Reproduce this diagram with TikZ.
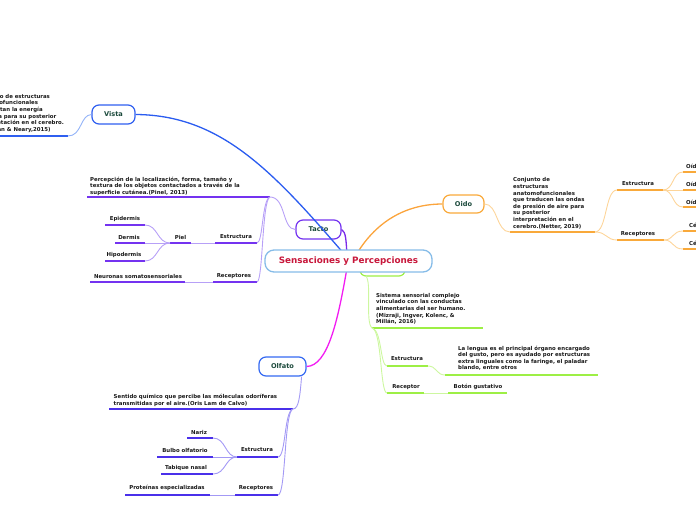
\documentclass[tikz,border=0pt]{standalone}
\usepackage{fontspec}
\setmainfont{DejaVu Sans}
\begin{document}
\begin{tikzpicture}[x=1pt,y=-1pt,
  sm/.style={font=\fontsize{5.4}{6.6}\selectfont\bfseries, text=black!90, inner sep=0pt},
  smc/.style={sm, anchor=center},
  para/.style={sm, anchor=north west, align=left},
  topic/.style={draw=#1, line width=1.2pt, fill=white, rounded corners=7pt,
    font=\fontsize{6.6}{8}\selectfont\bfseries, text=labc, inner sep=0pt},
  ul/.style={draw=#1, line width=1.8pt},
  cn/.style={draw=#1, line width=0.9pt},
  mainc/.style={draw=#1, line width=1.3pt}]
\definecolor{labc}{HTML}{1C4A3C}
\definecolor{tit}{HTML}{C8173B}
\definecolor{cenb}{HTML}{86BCE8}
\definecolor{vd}{HTML}{2F5FF0}\definecolor{vl}{HTML}{93B3F8}
\definecolor{td}{HTML}{7433F0}\definecolor{tl}{HTML}{B7A0F7}
\definecolor{od}{HTML}{F9A93A}\definecolor{ol}{HTML}{FDD59A}
\definecolor{gd}{HTML}{9DEF45}\definecolor{gl}{HTML}{CDF7A0}
\definecolor{fd}{HTML}{4A30EA}\definecolor{fl}{HTML}{A399F5}
\definecolor{vmain}{HTML}{2A5CF0}
\definecolor{tmain}{HTML}{7A2AE8}
\definecolor{omain}{HTML}{FBA43C}
\definecolor{fmain}{HTML}{F21CF2}
\definecolor{fbox}{HTML}{3469F2}
\useasboundingbox (0,0) rectangle (696,520);

% ---------- topic nodes ----------
\node[topic=vd, minimum width=43pt, minimum height=19pt] (vista) at (113.5,114.5) {Vista};
\node[topic=td, minimum width=45pt, minimum height=19pt] (tacto) at (318.5,229.5) {Tacto};
\node[topic=od, minimum width=41pt, minimum height=18pt] (oido) at (463.5,204) {Oido};
\node[topic=fbox, minimum width=47pt, minimum height=19pt] (olfato) at (282.5,366.5) {Olfato};

% ---------- main connectors (drawn under the central node) ----------
\coordinate (cv) at (345,255);
\coordinate (ct) at (347,255);
\coordinate (co) at (356,255);
\coordinate (cf) at (347,268);
\coordinate (cg) at (366,276);
\draw[mainc=vmain] (vista.east) .. controls (220,115) and (272,170) .. (cv);
\draw[mainc=tmain] (tacto.east) .. controls (346,232) and (346,240) .. (ct);
\draw[mainc=omain] (co) .. controls (378,218) and (410,204) .. (oido.west);
\draw[mainc=fmain] (cf) .. controls (338,320) and (328,366) .. (olfato.east);
\node[draw=gd, line width=1.2pt, fill=white, rounded corners=6pt, minimum width=45pt, minimum height=20pt, inner sep=0pt] (gusto) at (382.5,266) {};

% ---------- central node ----------
\node[draw=cenb, line width=1.3pt, fill=white, rounded corners=9pt, minimum width=167pt, minimum height=22pt,
  font=\fontsize{8.8}{10}\selectfont\bfseries, text=tit, inner sep=0pt] (c) at (348.5,261) {Sensaciones y Percepciones};

% ---------- Vista ----------
\node[para] (vdesc) at (-24,94) {Conjunto de estructuras\\anatomofuncionales\\que captan la energía\\lumínica para su posterior\\interpretación en el cerebro.\\(Sheehan \& Neary,2015)};
\coordinate (vdL) at (-5,136); \coordinate (vdR) at (68,136);
\draw[ul=vd] (vdL) -- (vdR);
\draw[cn=vl] (vdR) .. controls (82,136) and (80,115) .. (vista.west);

% ---------- Tacto ----------
\node[para] (tdesc) at (90,176.5) {Percepción de la localización, forma, tamaño y\\textura de los objetos contactados a través de la\\superficie cutánea.(Pinel, 2013)};
\coordinate (tdL) at (87,197); \coordinate (tdR) at (270,197);
\draw[ul=td] (tdL) -- (tdR);
\draw[cn=tl] (tdR) .. controls (286,197) and (282,229.5) .. (tacto.west);

\node[smc] (test) at (236,237) {Estructura};
\coordinate (testL) at (215,243); \coordinate (testR) at (257,243);
\draw[ul=td] (testL) -- (testR);
\node[smc] (trec) at (234,276) {Receptores};
\coordinate (trecL) at (213,282); \coordinate (trecR) at (257,282);
\draw[ul=td] (trecL) -- (trecR);
\draw[cn=tl] (tdR) .. controls (262,199) and (263,243) .. (testR);
\draw[cn=tl] (tdR) .. controls (262,199) and (263,282) .. (trecR);

\node[smc] (piel) at (180.5,237) {Piel};
\coordinate (pielL) at (170,243); \coordinate (pielR) at (191,243);
\draw[ul=td] (pielL) -- (pielR);
\draw[cn=tl] (pielR) -- (testL);

\node[smc] (epi) at (125,219) {Epidermis};
\coordinate (epiL) at (105,225); \coordinate (epiR) at (145,225);
\draw[ul=td] (epiL) -- (epiR);
\node[smc] (der) at (129,237) {Dermis};
\coordinate (derL) at (115,243); \coordinate (derR) at (145,243);
\draw[ul=td] (derL) -- (derR);
\node[smc] (hip) at (124,255) {Hipodermis};
\coordinate (hipL) at (105,261); \coordinate (hipR) at (145,261);
\draw[ul=td] (hipL) -- (hipR);
\draw[cn=tl] (pielL) .. controls (157,243) and (158,225) .. (epiR);
\draw[cn=tl] (pielL) -- (derR);
\draw[cn=tl] (pielL) .. controls (157,243) and (158,261) .. (hipR);

\node[smc] (neu) at (138,276) {Neuronas somatosensoriales};
\coordinate (neuL) at (90,282); \coordinate (neuR) at (185,282);
\draw[ul=td] (neuL) -- (neuR);
\draw[cn=tl] (neuR) -- (trecL);

% ---------- Oido ----------
\node[para] (odesc) at (513,177.5) {Conjunto de\\estructuras\\anatomofuncionales\\que traducen las ondas\\de presión de aire para\\su posterior\\interpretación en el\\cerebro.(Netter, 2019)};
\coordinate (odL) at (510,232); \coordinate (odR) at (595,232);
\draw[ul=od] (odL) -- (odR);
\draw[cn=ol] (oido.east) .. controls (498,204) and (496,232) .. (odL);

\node[smc] (oest) at (638,184) {Estructura};
\coordinate (oestL) at (617,190); \coordinate (oestR) at (663,190);
\draw[ul=od] (oestL) -- (oestR);
\node[smc] (orec) at (638,234) {Receptores};
\coordinate (orecL) at (617,240); \coordinate (orecR) at (664,240);
\draw[ul=od] (orecL) -- (orecR);
\draw[cn=ol] (odR) .. controls (607,232) and (605,190) .. (oestL);
\draw[cn=ol] (odR) .. controls (607,232) and (606,240) .. (orecL);

\node[sm, anchor=west] (oe1) at (686,166) {Oído externo};
\coordinate (oe1L) at (683,172); \coordinate (oe1R) at (700,172);
\draw[ul=od] (oe1L) -- (oe1R);
\node[sm, anchor=west] (oe2) at (686,184) {Oído medio};
\coordinate (oe2L) at (683,190); \coordinate (oe2R) at (700,190);
\draw[ul=od] (oe2L) -- (oe2R);
\node[sm, anchor=west] (oe3) at (686,202) {Oído interno};
\coordinate (oe3L) at (683,207); \coordinate (oe3R) at (700,207);
\draw[ul=od] (oe3L) -- (oe3R);
\draw[cn=ol] (oestR) .. controls (674,190) and (672,172) .. (oe1L);
\draw[cn=ol] (oestR) -- (oe2L);
\draw[cn=ol] (oestR) .. controls (674,190) and (672,207) .. (oe3L);

\node[sm, anchor=west] (or1) at (689,225.5) {Células ciliadas internas};
\coordinate (or1L) at (683,231); \coordinate (or1R) at (700,231);
\draw[ul=od] (or1L) -- (or1R);
\node[sm, anchor=west] (or2) at (689,243.5) {Células ciliadas externas};
\coordinate (or2L) at (683,249); \coordinate (or2R) at (700,249);
\draw[ul=od] (or2L) -- (or2R);
\draw[cn=ol] (orecR) .. controls (674,240) and (672,231) .. (or1L);
\draw[cn=ol] (orecR) .. controls (674,240) and (672,249) .. (or2L);

% ---------- Gusto ----------
\node[para] (gdesc) at (376,293) {Sistema sensorial complejo\\vinculado con las conductas\\alimentarias del ser humano.\\(Mizraji, Ingver, Kolenc, \&\\Millán, 2016)};
\coordinate (gdL) at (372,328); \coordinate (gdR) at (483,328);
\draw[ul=gd] (gdL) -- (gdR);
\draw[cn=gl] (cg) .. controls (372,284) and (365,322) .. (gdL);

\node[smc] (gest) at (407,359) {Estructura};
\coordinate (gestL) at (387,366); \coordinate (gestR) at (428,366);
\draw[ul=gd] (gestL) -- (gestR);
\node[smc] (grec) at (406,387) {Receptor};
\coordinate (grecL) at (387,393); \coordinate (grecR) at (424,393);
\draw[ul=gd] (grecL) -- (grecR);
\draw[cn=gl] (gdL) .. controls (382,330) and (380,366) .. (gestL);
\draw[cn=gl] (gdL) .. controls (382,330) and (380,393) .. (grecL);

\node[para] (glen) at (458,345.5) {La lengua es el principal órgano encargado\\del gusto, pero es ayudado por estructuras\\extra linguales como la faringe, el paladar\\blando, entre otros};
\coordinate (glenL) at (445,375); \coordinate (glenR) at (598,375);
\draw[ul=gd] (glenL) -- (glenR);
\draw[cn=gl] (gestR) .. controls (437,366) and (436,375) .. (glenL);

\node[smc] (bot) at (478,387) {Botón gustativo};
\coordinate (botL) at (448,393); \coordinate (botR) at (507,393);
\draw[ul=gd] (botL) -- (botR);
\draw[cn=gl] (grecR) -- (botL);

% ---------- Olfato ----------
\node[para] (fdesc) at (113.5,394) {Sentido químico que percibe las móleculas odoríferas\\transmitidas por el aire.(Oris Lam de Calvo)};
\coordinate (fdL) at (109,409); \coordinate (fdR) at (293,409);
\draw[ul=fd] (fdL) -- (fdR);
\draw[cn=fl] (olfato.south east) ++(-5,0) coordinate (fo) .. controls (300,395) and (299,409) .. (fdR);

\node[smc] (fest) at (257,450) {Estructura};
\coordinate (festL) at (237,457); \coordinate (festR) at (278,457);
\draw[ul=fd] (festL) -- (festR);
\node[smc] (frec) at (256,488) {Receptores};
\coordinate (frecL) at (235,495); \coordinate (frecR) at (278,495);
\draw[ul=fd] (frecL) -- (frecR);
\draw[cn=fl] (fdR) .. controls (284,411) and (286,457) .. (festR);
\draw[cn=fl] (fdR) .. controls (284,411) and (286,495) .. (frecR);

\node[smc] (nar) at (199,432) {Nariz};
\coordinate (narL) at (187,438); \coordinate (narR) at (213,438);
\draw[ul=fd] (narL) -- (narR);
\node[smc] (bul) at (185,450) {Bulbo olfatorio};
\coordinate (bulL) at (157,457); \coordinate (bulR) at (213,457);
\draw[ul=fd] (bulL) -- (bulR);
\node[smc] (tab) at (186,468) {Tabique nasal};
\coordinate (tabL) at (161,474); \coordinate (tabR) at (213,474);
\draw[ul=fd] (tabL) -- (tabR);
\draw[cn=fl] (festL) .. controls (225,457) and (226,438) .. (narR);
\draw[cn=fl] (festL) -- (bulR);
\draw[cn=fl] (festL) .. controls (225,457) and (226,474) .. (tabR);

\node[smc] (pro) at (167,488) {Proteínas especializadas};
\coordinate (proL) at (125,495); \coordinate (proR) at (210,495);
\draw[ul=fd] (proL) -- (proR);
\draw[cn=fl] (proR) -- (frecL);
\end{tikzpicture}
\end{document}
